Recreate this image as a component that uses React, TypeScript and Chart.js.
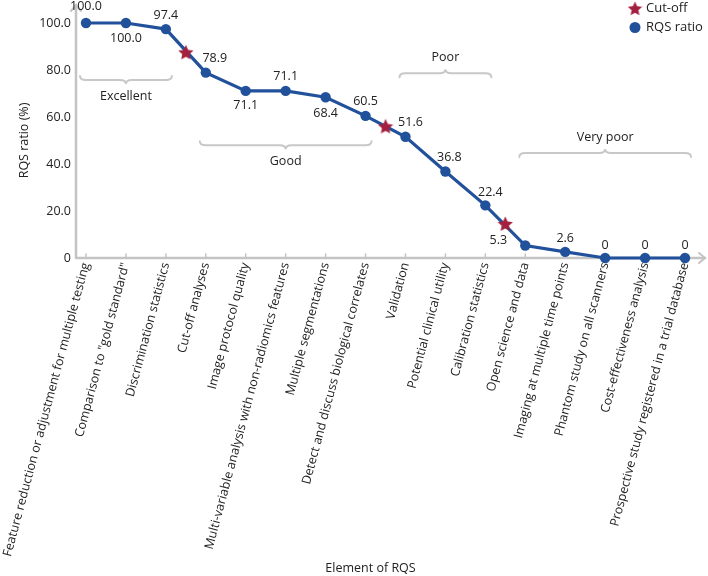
import React, { useEffect, useRef } from "react";
import { Chart, registerables } from "chart.js";

Chart.register(...registerables);

const categories = [
  "Feature reduction or adjustment for multiple testing",
  "Comparison to \"gold standard\"",
  "Discrimination statistics",
  "Cut-off analyses",
  "Image protocol quality",
  "Multi-variable analysis with non-radiomics features",
  "Multiple segmentations",
  "Detect and discuss biological correlates",
  "Validation",
  "Potential clinical utility",
  "Calibration statistics",
  "Open science and data",
  "Imaging at multiple time points",
  "Phantom study on all scanners",
  "Cost-effectiveness analysis",
  "Prospective study registered in a trial database",
];
const rqsRatio = [100.0, 100.0, 97.4, 78.9, 71.1, 71.1, 68.4, 60.5, 51.6, 36.8, 22.4, 5.3, 2.6, 0, 0, 0];
const cutoffPositions = [2.5, 7.5, 10.5];
const cutoffValues = [87.5, 56.0, 14.5];
const yTicks = [0, 20, 40, 60, 80, 100];
const groupLabels = ["Excellent", "Good", "Poor", "Very poor"];
const groupFirst = [0, 3, 8, 11];
const groupLast = [2, 7, 10, 15];
const xTitle = "Element of RQS";
const yTitle = "RQS ratio (%)";

const FONT = "'Open Sans', 'Noto Sans', sans-serif";
const BLUE = "#22519B";
const RED = "#A3203F";
const GREY = "#C4C4C4";
const TEXT = "#222222";

const fmt = (v: number) => (v === 0 ? "0" : v.toFixed(1));

function makeStar(size: number, color: string): HTMLCanvasElement {
  const c = document.createElement("canvas");
  c.width = size;
  c.height = size;
  const ctx = c.getContext("2d")!;
  const cx = size / 2;
  const cy = size / 2 + 0.6;
  const ro = size / 2;
  const ri = ro * 0.48;
  ctx.beginPath();
  for (let i = 0; i < 10; i++) {
    const r = i % 2 === 0 ? ro : ri;
    const a = -Math.PI / 2 + (i * Math.PI) / 5;
    const x = cx + r * Math.cos(a);
    const y = cy + r * Math.sin(a);
    if (i === 0) ctx.moveTo(x, y);
    else ctx.lineTo(x, y);
  }
  ctx.closePath();
  ctx.fillStyle = color;
  ctx.fill();
  return c;
}

// label offsets (pixels) for value labels relative to each point
const labelOffsets: [number, number][] = [
  [0, -17], [0, 15], [0, -14], [9, -14], [0, 15], [0, -14], [0, 16], [0, -14],
  [5, -14], [4, -14], [5, -13], [-27, -5], [0, -13], [0, -13], [0, -13], [0, -13],
];
// bracket levels (value units) and orientation: 1 = label below, -1 = label above
const bracketLevels = [75.7, 48.0, 78.6, 44.7];
const bracketDirs = [1, 1, -1, -1];

function drawBrace(ctx: CanvasRenderingContext2D, x1: number, x2: number, y: number, dir: number) {
  const h = 4;
  const r = 6;
  const xm = (x1 + x2) / 2;
  ctx.beginPath();
  ctx.moveTo(x1, y - dir * h);
  ctx.quadraticCurveTo(x1, y, x1 + r, y);
  ctx.lineTo(xm - r, y);
  ctx.quadraticCurveTo(xm, y, xm, y + dir * h);
  ctx.quadraticCurveTo(xm, y, xm + r, y);
  ctx.lineTo(x2 - r, y);
  ctx.quadraticCurveTo(x2, y, x2, y - dir * h);
  ctx.stroke();
}

export default function App() {
  const ref = useRef<HTMLCanvasElement | null>(null);

  useEffect(() => {
    if (!ref.current) return;
    const star = makeStar(16, RED);
    const legendStar = makeStar(15, RED);

    const decor = {
      id: "decor",
      beforeDatasetsDraw(chart: any) {
        const { ctx, chartArea } = chart;
        const xs = chart.scales.x;
        const ys = chart.scales.y;
        ctx.save();
        // axes
        ctx.strokeStyle = GREY;
        ctx.lineWidth = 2.5;
        ctx.lineCap = "round";
        ctx.beginPath();
        ctx.moveTo(chartArea.left, chartArea.bottom);
        ctx.lineTo(chart.width - 3, chartArea.bottom);
        ctx.moveTo(chartArea.left, chartArea.bottom);
        ctx.lineTo(chartArea.left, 5);
        ctx.stroke();
        ctx.lineWidth = 2;
        ctx.beginPath();
        ctx.moveTo(chart.width - 9, chartArea.bottom - 5);
        ctx.lineTo(chart.width - 3, chartArea.bottom);
        ctx.lineTo(chart.width - 9, chartArea.bottom + 5);
        ctx.moveTo(chartArea.left - 5, 11);
        ctx.lineTo(chartArea.left, 5);
        ctx.lineTo(chartArea.left + 5, 11);
        ctx.stroke();
        // tick marks
        ctx.lineWidth = 1.5;
        ctx.beginPath();
        categories.forEach((_, i) => {
          const x = xs.getPixelForValue(i);
          ctx.moveTo(x, chartArea.bottom);
          ctx.lineTo(x, chartArea.bottom - 4);
        });
        ctx.stroke();
        // brackets
        ctx.strokeStyle = "#C8C8C8";
        ctx.lineWidth = 2;
        ctx.fillStyle = TEXT;
        ctx.font = `12.5px ${FONT}`;
        ctx.textAlign = "center";
        ctx.textBaseline = "middle";
        groupLabels.forEach((lab, i) => {
          const x1 = xs.getPixelForValue(groupFirst[i] - 0.15);
          const x2 = xs.getPixelForValue(groupLast[i] + 0.15);
          const y = ys.getPixelForValue(bracketLevels[i]);
          const d = bracketDirs[i];
          drawBrace(ctx, x1, x2, y, d);
          ctx.fillText(lab, (x1 + x2) / 2, y + d * 16);
        });
        ctx.restore();
      },
      afterDatasetsDraw(chart: any) {
        const { ctx } = chart;
        const xs = chart.scales.x;
        const ys = chart.scales.y;
        ctx.save();
        ctx.fillStyle = TEXT;
        ctx.font = `12.5px ${FONT}`;
        ctx.textAlign = "center";
        ctx.textBaseline = "middle";
        rqsRatio.forEach((v, i) => {
          const x = xs.getPixelForValue(i);
          const y = ys.getPixelForValue(v);
          const [dx, dy] = labelOffsets[i];
          ctx.fillText(fmt(v), x + dx, y + dy);
        });
        ctx.restore();
      },
      afterDraw(chart: any) {
        const { ctx, chartArea } = chart;
        const lx = chart.width - 73;
        ctx.save();
        ctx.font = `13px ${FONT}`;
        ctx.fillStyle = TEXT;
        ctx.textAlign = "left";
        ctx.textBaseline = "middle";
        const sets = chart.data.datasets;
        ctx.drawImage(legendStar, lx - 7.5, 8.5 - 7.5);
        ctx.fillText(sets[0].label, lx + 11, 8.5);
        ctx.beginPath();
        ctx.arc(lx, 27.5, 5.5, 0, Math.PI * 2);
        ctx.fillStyle = BLUE;
        ctx.fill();
        ctx.fillStyle = TEXT;
        ctx.fillText(sets[1].label, lx + 11, 27.5);
        // x axis title
        ctx.font = `12.5px ${FONT}`;
        ctx.textAlign = "center";
        ctx.fillText(xTitle, (chartArea.left + chartArea.right) / 2 - 17, chart.height - 8);
        ctx.restore();
      },
    };

    const chart = new Chart(ref.current, {
      type: "line",
      data: {
        datasets: [
          {
            label: "Cut-off",
            data: cutoffPositions.map((x, i) => ({ x, y: cutoffValues[i] })),
            showLine: false,
            pointStyle: star as any,
            pointRadius: 8,
            clip: false as any,
          },
          {
            label: "RQS ratio",
            data: rqsRatio.map((y, i) => ({ x: i, y })),
            borderColor: BLUE,
            backgroundColor: BLUE,
            borderWidth: 3.2,
            pointRadius: 5.2,
            pointBackgroundColor: BLUE,
            pointBorderWidth: 0,
            tension: 0,
            clip: false as any,
          },
        ],
      },
      options: {
        animation: false,
        responsive: true,
        maintainAspectRatio: false,
        layout: { padding: { top: 23, right: 8, left: 0, bottom: 0 } },
        plugins: {
          legend: { display: false },
          tooltip: { enabled: false },
        },
        scales: {
          x: {
            type: "linear",
            min: -0.25,
            max: 15.35,
            grid: { display: false, drawTicks: false },
            border: { display: false },
            afterBuildTicks: (scale: any) => {
              scale.ticks = categories.map((_, i) => ({ value: i }));
            },
            afterFit: (scale: any) => {
              scale.height = 318;
              scale.paddingLeft = 0;
              scale.paddingRight = 0;
            },
            ticks: {
              autoSkip: false,
              minRotation: 75,
              maxRotation: 75,
              padding: 3,
              color: TEXT,
              font: { family: FONT, size: 12.5 },
              callback: (v: any) => categories[Number(v)] ?? "",
            },
            title: { display: false },
          },
          y: {
            min: 0,
            max: 100,
            grid: { display: false, drawTicks: false },
            border: { display: false },
            afterBuildTicks: (scale: any) => {
              scale.ticks = yTicks.map((v) => ({ value: v }));
            },
            afterFit: (scale: any) => {
              scale.width = 76;
            },
            ticks: {
              padding: 5,
              color: TEXT,
              font: { family: FONT, size: 12.5 },
              callback: (v: any) => fmt(Number(v)),
            },
            title: {
              display: true,
              text: yTitle,
              color: TEXT,
              font: { family: FONT, size: 12.5 },
              padding: { top: 17, bottom: 0 },
            },
          },
        },
      } as any,
      plugins: [decor],
    });
    return () => chart.destroy();
  }, []);

  return (
    <div style={{ position: "fixed", left: 0, top: 0, width: 708, height: 576, background: "#fff" }}>
      <canvas ref={ref} />
    </div>
  );
}
